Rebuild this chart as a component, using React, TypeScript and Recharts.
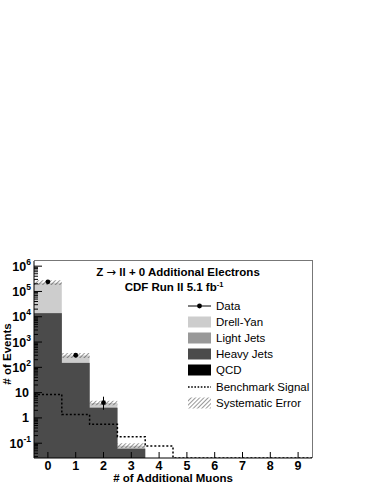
import React from 'react';
import {
  ComposedChart,
  Area,
  Line,
  Scatter,
  ErrorBar,
  XAxis,
  YAxis,
  Legend,
} from 'recharts';

// bins of the histogram (# of additional muons)
const BINS = [0, 1, 2, 3, 4, 5, 6, 7, 8, 9];

// background stack
const DRELL_YAN = [2.06e5, 140, 1.4, 0.02, 0, 0, 0, 0, 0, 0];
const LIGHT_JETS = [200, 1, 0, 0, 0, 0, 0, 0, 0, 0];
const HEAVY_JETS = [1.38e4, 150, 2.5, 0.06, 0, 0, 0, 0, 0, 0];
const QCD = [0, 0, 0, 0, 0, 0, 0, 0, 0, 0];

// systematic band (low / high edge)
const SYS_LOW = [1.8e5, 235, 3.2, 0.065, null, null, null, null, null, null];
const SYS_HIGH = [2.8e5, 370, 4.8, 0.1, null, null, null, null, null, null];

// benchmark signal (dotted)
const SIGNAL = [8.5, 1.35, 0.56, 0.18, 0.077, 0.026, 0.026, 0.026, 0.026, 0.026];

// data points
const DATA_BINS = [0, 1, 2];
const DATA = [2.4e5, 300, 4.0];
const DATA_ERR_LOW = [490, 17, 1.9];
const DATA_ERR_HIGH = [490, 17, 2.9];

const Y_MAJOR = [0.1, 1, 10, 100, 1e3, 1e4, 1e5, 1e6];
const Y_LABELS: [string, string][] = [
  ['10', '-1'], ['1', ''], ['10', ''], ['10', '2'],
  ['10', '3'], ['10', '4'], ['10', '5'], ['10', '6'],
];

const Y_MIN = 0.026;
const Y_MAX = 1.6e6;

const COLORS = {
  drellYan: '#cdcdcd',
  lightJets: '#999999',
  heavyJets: '#4b4b4b',
  qcd: '#000000',
  hatch: '#333333',
};

const FONT = '"Liberation Sans", Arial, Helvetica, sans-serif';

// layout
const CHART_W = 340;
const CHART_H = 484;
const PLOT_LEFT = 34;
const PLOT_TOP = 261;
const PLOT_RIGHT = 312;
const PLOT_BOTTOM = 458;

const pos = (v: number) => (v > 0 ? v : null);

// step-shaped table: two rows per bin (left edge, right edge)
const histRows = BINS.flatMap((b, i) => {
  const qcd = QCD[i];
  const heavy = qcd + HEAVY_JETS[i];
  const light = heavy + LIGHT_JETS[i];
  const total = light + DRELL_YAN[i];
  const row = {
    qcd: pos(qcd),
    heavy: pos(heavy),
    light: pos(light),
    total: pos(total),
    sys: SYS_LOW[i] != null ? [SYS_LOW[i], SYS_HIGH[i]] : null,
    signal: SIGNAL[i],
  };
  return [{ x: b - 0.5, ...row }, { x: b + 0.5, ...row }];
});

const dataPoints = DATA_BINS.map((b, i) => ({
  x: b,
  y: DATA[i],
  err: [DATA_ERR_LOW[i], DATA_ERR_HIGH[i]],
}));

// minor log ticks 2..9 x 10^k inside the range
const minorTicks: number[] = [];
for (let k = -2; k <= 6; k++) {
  for (let m = 2; m <= 9; m++) {
    const v = m * Math.pow(10, k);
    if (v > Y_MIN && v < Y_MAX) minorTicks.push(v);
  }
}
const yTicks = [...Y_MAJOR, ...minorTicks].sort((a, b) => a - b);

const YTick = (props: any) => {
  const { y, payload } = props;
  const idx = Y_MAJOR.findIndex((m) => Math.abs(m - payload.value) / m < 1e-6);
  const major = idx >= 0;
  return (
    <g>
      <line
        x1={PLOT_LEFT}
        x2={PLOT_LEFT + (major ? 8 : 4)}
        y1={y}
        y2={y}
        stroke="#000"
        strokeWidth={1}
      />
      {major && (
        <text
          x={Y_LABELS[idx][1] ? 31 : 29}
          y={y + 4.5}
          textAnchor="end"
          fontFamily={FONT}
          fontWeight="bold"
          fontSize={12.5}
          fill="#000"
        >
          {Y_LABELS[idx][0]}
          {Y_LABELS[idx][1] && (
            <tspan dy={-6} fontSize={8.5}>
              {Y_LABELS[idx][1]}
            </tspan>
          )}
        </text>
      )}
    </g>
  );
};

const XTick = (props: any) => {
  const { x, payload } = props;
  return (
    <g>
      <line x1={x} x2={x} y1={PLOT_BOTTOM} y2={PLOT_BOTTOM - 6} stroke="#000" />
      <text
        x={x}
        y={PLOT_BOTTOM + 12}
        textAnchor="middle"
        fontFamily={FONT}
        fontWeight="bold"
        fontSize={12.5}
        fill="#000"
      >
        {payload.value}
      </text>
    </g>
  );
};

const LEGEND_ITEMS = [
  { label: 'Data', kind: 'data' },
  { label: 'Drell-Yan', kind: 'fill', color: COLORS.drellYan },
  { label: 'Light Jets', kind: 'fill', color: COLORS.lightJets },
  { label: 'Heavy Jets', kind: 'fill', color: COLORS.heavyJets },
  { label: 'QCD', kind: 'fill', color: COLORS.qcd },
  { label: 'Benchmark Signal', kind: 'dotted' },
  { label: 'Systematic Error', kind: 'hatch' },
];

const LegendBox = () => (
  <div style={{ fontFamily: FONT, fontSize: 11.5, color: '#000' }}>
    {LEGEND_ITEMS.map((item) => (
      <div key={item.label} style={{ display: 'flex', alignItems: 'center', height: 16.1 }}>
        <svg width={24} height={14} style={{ marginRight: 4 }}>
          <defs>
            <pattern id="hatchLegend" width={3} height={3} patternUnits="userSpaceOnUse" patternTransform="rotate(45)">
              <line x1={0} y1={0} x2={0} y2={3} stroke={COLORS.hatch} strokeWidth={1} />
            </pattern>
          </defs>
          {item.kind === 'data' && (
            <g>
              <line x1={0} x2={23} y1={7} y2={7} stroke="#000" strokeWidth={1} />
              <circle cx={11.5} cy={7} r={2.4} fill="#000" />
            </g>
          )}
          {item.kind === 'fill' && <rect x={0} y={1.5} width={23} height={11} fill={item.color} />}
          {item.kind === 'dotted' && (
            <line x1={0} x2={23} y1={7} y2={7} stroke="#000" strokeWidth={1.4} strokeDasharray="1.6 1.6" />
          )}
          {item.kind === 'hatch' && <rect x={0} y={1.5} width={23} height={11} fill="url(#hatchLegend)" />}
        </svg>
        <span style={{ whiteSpace: 'nowrap' }}>{item.label}</span>
      </div>
    ))}
  </div>
);

export default function App() {
  return (
    <div
      style={{
        position: 'fixed',
        left: 0,
        top: 0,
        width: 374,
        height: 484,
        overflow: 'hidden',
        background: '#fff',
      }}
    >
      <ComposedChart
        width={CHART_W}
        height={CHART_H}
        data={histRows}
        margin={{ top: PLOT_TOP, right: CHART_W - PLOT_RIGHT, bottom: 0, left: 0 }}
      >
        <defs>
          <pattern id="hatchBand" width={3} height={3} patternUnits="userSpaceOnUse" patternTransform="rotate(45)">
            <line x1={0} y1={0} x2={0} y2={3} stroke={COLORS.hatch} strokeWidth={1} />
          </pattern>
        </defs>
        <Area dataKey="total" type="linear" baseValue={Y_MIN} fill={COLORS.drellYan} fillOpacity={1} stroke="none" isAnimationActive={false} />
        <Area dataKey="light" type="linear" baseValue={Y_MIN} fill={COLORS.lightJets} fillOpacity={1} stroke="none" isAnimationActive={false} />
        <Area dataKey="heavy" type="linear" baseValue={Y_MIN} fill={COLORS.heavyJets} fillOpacity={1} stroke="none" isAnimationActive={false} />
        <Area dataKey="qcd" type="linear" baseValue={Y_MIN} fill={COLORS.qcd} fillOpacity={1} stroke="none" isAnimationActive={false} />
        <Area dataKey="sys" type="linear" fill="url(#hatchBand)" fillOpacity={1} stroke="none" isAnimationActive={false} />
        <Line dataKey="signal" type="linear" stroke="#000" strokeWidth={1.5} strokeDasharray="2 2" dot={false} isAnimationActive={false} />
        <Scatter
          data={dataPoints}
          dataKey="y"
          fill="#000"
          isAnimationActive={false}
          shape={(p: any) => <circle cx={p.cx} cy={p.cy} r={2.4} fill="#000" />}
        >
          <ErrorBar dataKey="err" direction="y" width={0} stroke="#000" strokeWidth={1} />
        </Scatter>
        <XAxis
          dataKey="x"
          type="number"
          domain={[-0.5, 9.5]}
          ticks={BINS}
          interval={0}
          allowDataOverflow
          height={CHART_H - PLOT_BOTTOM}
          axisLine={{ stroke: '#000' }}
          tickLine={false}
          tick={<XTick />}
        />
        <YAxis
          type="number"
          scale="log"
          domain={[Y_MIN, Y_MAX]}
          ticks={yTicks}
          interval={0}
          allowDataOverflow
          width={PLOT_LEFT}
          axisLine={{ stroke: '#000' }}
          tickLine={false}
          tick={<YTick />}
        />
        <Legend
          layout="vertical"
          align="center"
          verticalAlign="middle"
          content={<LegendBox />}
          wrapperStyle={{ left: 188, top: 298, width: 130 }}
        />
        <text
          x={0}
          y={0}
          transform="translate(11, 354) rotate(-90)"
          textAnchor="middle"
          fontFamily={FONT}
          fontWeight="bold"
          fontSize={11.5}
          fill="#000"
        >
          # of Events
        </text>
        <text
          x={173}
          y={482}
          textAnchor="middle"
          fontFamily={FONT}
          fontWeight="bold"
          fontSize={11.5}
          fill="#000"
        >
          # of Additional Muons
        </text>
      </ComposedChart>

      {/* frame top / right */}
      <div
        style={{
          position: 'absolute',
          left: PLOT_LEFT,
          top: PLOT_TOP - 1,
          width: PLOT_RIGHT - PLOT_LEFT,
          height: PLOT_BOTTOM - PLOT_TOP,
          borderTop: '1px solid #777',
          borderRight: '1px solid #777',
          pointerEvents: 'none',
        }}
      />

      {/* titles */}
      <div
        style={{
          position: 'absolute',
          left: 178,
          top: 272,
          transform: 'translate(-50%, -50%)',
          whiteSpace: 'nowrap',
          fontFamily: FONT,
          fontWeight: 'bold',
          fontSize: 11.5,
        }}
      >
        Z <span style={{ fontFamily: '"DejaVu Sans", sans-serif', fontWeight: 'normal' }}>{'\u2192'}</span> ll + 0 Additional Electrons
      </div>
      <div
        style={{
          position: 'absolute',
          left: 174,
          top: 286,
          transform: 'translate(-50%, -50%)',
          whiteSpace: 'nowrap',
          fontFamily: FONT,
          fontWeight: 'bold',
          fontSize: 11.5,
        }}
      >
        CDF Run II 5.1 fb<sup style={{ fontSize: 7.5, verticalAlign: 4 }}>-1</sup>
      </div>
    </div>
  );
}
